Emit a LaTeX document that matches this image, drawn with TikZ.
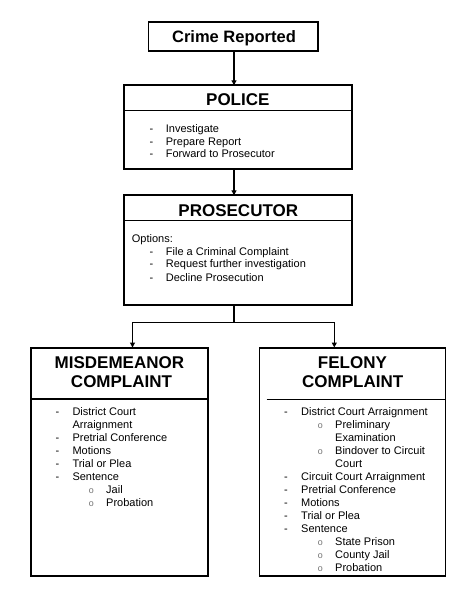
\documentclass[tikz,border=0pt]{standalone}
\usepackage{fontspec}
\setmainfont{Liberation Sans}
\newfontfamily\bulletfont{Liberation Mono}
\usetikzlibrary{arrows.meta}
\begin{document}
\begin{tikzpicture}[x=1pt,y=-1pt,
  box/.style={draw,line width=1.8pt,inner sep=0pt,outer sep=0pt},
  div/.style={line width=1.6pt},
  conn/.style={line width=1.1pt},
  arr/.style={conn,-{Triangle[length=5pt,width=5pt]}},
  title/.style={font=\fontsize{17}{19}\selectfont\bfseries,anchor=base,inner sep=0pt},
  item/.style={font=\fontsize{11}{13}\selectfont,anchor=base west,inner sep=0pt},
  subb/.style={font=\bulletfont\fontsize{9}{13}\selectfont,text=black!55,anchor=base west,inner sep=0pt}]
\useasboundingbox (0,0) rectangle (474,599);
% boxes
\node[box,minimum width=169.3pt,minimum height=29.5pt] (crime) at (233.15,36.45) {};
\node[box,minimum width=228.3pt,minimum height=83.5pt] (police) at (237.85,127.05) {};
\node[box,minimum width=228.3pt,minimum height=109.4pt] (pros) at (237.85,250) {};
\node[box,minimum width=177.2pt,minimum height=228pt] (misd) at (119.4,462) {};
\node[box,minimum width=186pt,minimum height=228pt] (fel) at (352.5,462) {};
% dividers
\draw[div] ([yshift=-25.2pt]police.north west) -- ([yshift=-25.2pt]police.north east);
\draw[div] ([yshift=-25.2pt]pros.north west) -- ([yshift=-25.2pt]pros.north east);
\draw[div] ([yshift=-50.7pt]misd.north west) -- ([yshift=-50.7pt]misd.north east);
\draw[div] ([xshift=7.2pt,yshift=-51.3pt]fel.north west) -- ([yshift=-51.3pt]fel.north east);
% connectors
\coordinate (bus) at (234,322.7);
\coordinate (mtop) at (132.5,347.5);
\coordinate (ftop) at (334.3,347.5);
\draw[arr] (crime.south -| bus) -- (police.north -| bus);
\draw[arr] (police.south -| bus) -- (pros.north -| bus);
\draw[conn] (pros.south -| bus) -- (bus);
\draw[arr] (bus) -| (mtop);
\draw[arr] (bus) -| (ftop);
% titles
\node[title,font=\fontsize{16.5}{19}\selectfont\bfseries] (crimeT) at (234,42.3) {Crime Reported};
\node[title] (policeT) at (237.8,105.7) {POLICE};
\node[title] (prosT) at (238.3,216) {PROSECUTOR};
\node[title] (misdT1) at (119.4,368.3) {MISDEMEANOR};
\node[title] (misdT2) at (121.5,387.3) {COMPLAINT};
\node[title] (felT1) at (352.4,368.3) {FELONY};
\node[title] (felT2) at (352.7,387.3) {COMPLAINT};
% police items
\node[item] (pd1) at (149.3,132) {-};
\node[item] (pi1) at (165.7,132) {Investigate};
\node[item] (pd2) at (149.3,145) {-};
\node[item] (pi2) at (165.7,145) {Prepare Report};
\node[item] (pd3) at (149.3,157.7) {-};
\node[item] (pi3) at (165.7,157.7) {Forward to Prosecutor};
% prosecutor items
\node[item] (po) at (131.7,242.3) {Options:};
\node[item] (qd1) at (149.3,255) {-};
\node[item] (qi1) at (165.7,255) {File a Criminal Complaint};
\node[item] (qd2) at (149.3,267.7) {-};
\node[item] (qi2) at (165.7,267.7) {Request further investigation};
\node[item] (qd3) at (149.3,281) {-};
\node[item] (qi3) at (165.7,281) {Decline Prosecution};
% misdemeanor items
\node[item] (md1) at (55.3,415) {-};
\node[item] (mi1) at (72.3,415) {District Court};
\node[item] (mi1b) at (72.3,428) {Arraignment};
\node[item] (md2) at (55.3,441) {-};
\node[item] (mi2) at (72.3,441) {Pretrial Conference};
\node[item] (md3) at (55.3,454) {-};
\node[item] (mi3) at (72.3,454) {Motions};
\node[item] (md4) at (55.3,467) {-};
\node[item] (mi4) at (72.3,467) {Trial or Plea};
\node[item] (md5) at (55.3,480) {-};
\node[item] (mi5) at (72.3,480) {Sentence};
\node[subb] (mo1) at (88.5,493) {o};
\node[item] (ms1) at (106,493) {Jail};
\node[subb] (mo2) at (88.5,506) {o};
\node[item] (ms2) at (106,506) {Probation};
% felony items
\node[item] (fd1) at (284,415) {-};
\node[item] (fi1) at (301,415) {District Court Arraignment};
\node[subb] (fo1) at (317.5,428) {o};
\node[item] (fs1) at (335,428) {Preliminary};
\node[item] (fs1b) at (335,441) {Examination};
\node[subb] (fo2) at (317.5,454) {o};
\node[item] (fs2) at (335,454) {Bindover to Circuit};
\node[item] (fs2b) at (335,467) {Court};
\node[item] (fd2) at (284,480) {-};
\node[item] (fi2) at (301,480) {Circuit Court Arraignment};
\node[item] (fd3) at (284,493) {-};
\node[item] (fi3) at (301,493) {Pretrial Conference};
\node[item] (fd4) at (284,506) {-};
\node[item] (fi4) at (301,506) {Motions};
\node[item] (fd5) at (284,519) {-};
\node[item] (fi5) at (301,519) {Trial or Plea};
\node[item] (fd6) at (284,532) {-};
\node[item] (fi6) at (301,532) {Sentence};
\node[subb] (fo3) at (317.5,545) {o};
\node[item] (fs3) at (335,545) {State Prison};
\node[subb] (fo4) at (317.5,558) {o};
\node[item] (fs4) at (335,558) {County Jail};
\node[subb] (fo5) at (317.5,571) {o};
\node[item] (fs5) at (335,571) {Probation};
\end{tikzpicture}
\end{document}
